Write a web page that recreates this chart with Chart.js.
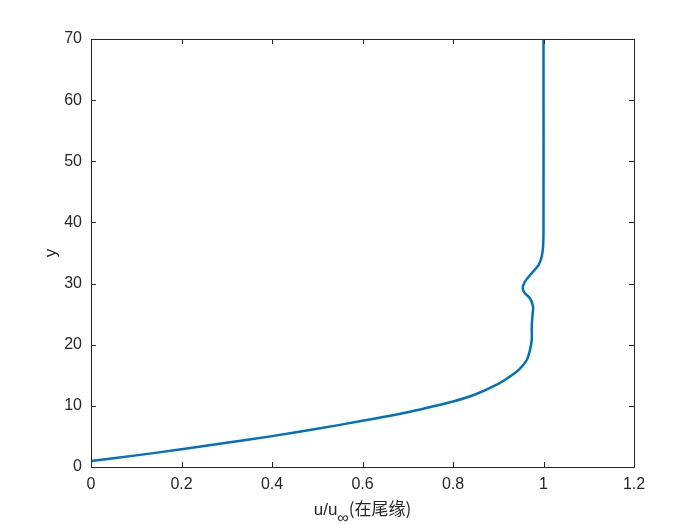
<!DOCTYPE html>
<html>
<head>
<meta charset="utf-8">
<script src="https://cdn.jsdelivr.net/npm/chart.js@4"></script>
<style>
  body { margin: 0; background: #fff; }
  #wrap { width: 700px; height: 525px; }
</style>
</head>
<body>
<div id="wrap"><canvas id="profile"></canvas></div>
<script>
// Valores
const uValues = [0, 0.1, 0.2, 0.3, 0.4, 0.5, 0.6, 0.7, 0.75, 0.8, 0.85, 0.9, 0.926, 0.948, 0.963, 0.970, 0.974, 0.974, 0.976, 0.977, 0.970, 0.959, 0.954, 0.959, 0.974, 0.989, 0.996, 0.999, 1.0, 1.0];
const yValues = [1.0, 1.9, 2.9, 3.95, 5.05, 6.25, 7.55, 8.95, 9.8, 10.7, 11.9, 13.6, 14.8, 16.1, 17.5, 19.1, 20.8, 22.9, 25.1, 26.2, 27.6, 28.4, 29.2, 30.3, 31.7, 33.0, 34.4, 36.0, 38.8, 70];
const xTicks = [0, 0.2, 0.4, 0.6, 0.8, 1, 1.2];
const yTicks = [0, 10, 20, 30, 40, 50, 60, 70];

const FONT = '"Liberation Sans", Arial, Helvetica, sans-serif';
const AXIS_COLOR = '#262626';

// Ticks hacia dentro + caja estilo MATLAB + títulos
const matlabAxes = {
    id: 'matlabAxes',
    afterDraw(chart) {
        const c = chart.ctx;
        const a = chart.chartArea;
        const xs = chart.scales.x, ys = chart.scales.y;
        c.save();
        c.strokeStyle = AXIS_COLOR;
        c.lineWidth = 1;
        c.beginPath();
        c.rect(Math.round(a.left) + 0.5, Math.round(a.top) + 0.5,
               Math.round(a.right - a.left), Math.round(a.bottom - a.top));
        xTicks.forEach(v => {
            const px = Math.round(xs.getPixelForValue(v)) + 0.5;
            c.moveTo(px, a.bottom); c.lineTo(px, a.bottom - 5);
            c.moveTo(px, a.top); c.lineTo(px, a.top + 5);
        });
        yTicks.forEach(v => {
            const py = Math.round(ys.getPixelForValue(v)) + 0.5;
            c.moveTo(a.left, py); c.lineTo(a.left + 5, py);
            c.moveTo(a.right, py); c.lineTo(a.right - 5, py);
        });
        c.stroke();

        // título del eje x con subíndice
        c.fillStyle = AXIS_COLOR;
        c.textBaseline = 'alphabetic';
        const main = '17px ' + FONT;
        const sub = '16px ' + FONT;
        const cjk = '17px "Noto Sans CJK SC", ' + FONT;
        c.font = main; const w1 = c.measureText('u/u').width;
        c.font = sub; const w2 = c.measureText('\u221E').width;
        c.font = cjk; const w3 = c.measureText('(在尾缘)').width;
        let x0 = (a.left + a.right) / 2 - (w1 + w2 + w3) / 2;
        const base = 515;
        c.textAlign = 'left';
        c.font = main; c.fillText('u/u', x0, base); x0 += w1;
        c.font = sub; c.fillText('\u221E', x0, base + 8); x0 += w2;
        c.font = cjk; c.fillText('(在尾缘)', x0, base);

        // título del eje y
        c.translate(51, (a.top + a.bottom) / 2);
        c.rotate(-Math.PI / 2);
        c.textAlign = 'center';
        c.textBaseline = 'middle';
        c.font = main;
        c.fillText('y', 0, 0);
        c.restore();
    }
};

new Chart(document.getElementById('profile'), {
    type: 'scatter',
    data: {
        datasets: [{
            label: 'u/u∞',
            data: uValues.map((u, i) => ({ x: u, y: yValues[i] })),
            showLine: true,
            tension: 0.3,
            borderColor: '#0072BD',
            borderWidth: 2.5,
            pointRadius: 0,
            fill: false
        }]
    },
    options: {
        responsive: true,
        maintainAspectRatio: false,
        animation: false,
        layout: { padding: { left: 0, right: 66, top: 39, bottom: 0 } },
        scales: {
            x: {
                type: 'linear',
                min: 0, max: 1.2,
                afterBuildTicks: s => { s.ticks = xTicks.map(v => ({ value: v })); },
                afterFit: s => { s.height = 58; },
                grid: { display: false, drawTicks: false },
                border: { display: false },
                ticks: {
                    padding: 8,
                    color: AXIS_COLOR,
                    font: { family: FONT, size: 16 },
                    maxRotation: 0,
                    callback: v => String(v)
                }
            },
            y: {
                type: 'linear',
                min: 0, max: 70,
                afterBuildTicks: s => { s.ticks = yTicks.map(v => ({ value: v })); },
                afterFit: s => { s.width = 91; },
                grid: { display: false, drawTicks: false },
                border: { display: false },
                ticks: {
                    padding: 9,
                    color: AXIS_COLOR,
                    font: { family: FONT, size: 16 }
                }
            }
        },
        plugins: {
            legend: { display: false },
            tooltip: { enabled: false }
        }
    },
    plugins: [matlabAxes]
});
</script>
</body>
</html>
